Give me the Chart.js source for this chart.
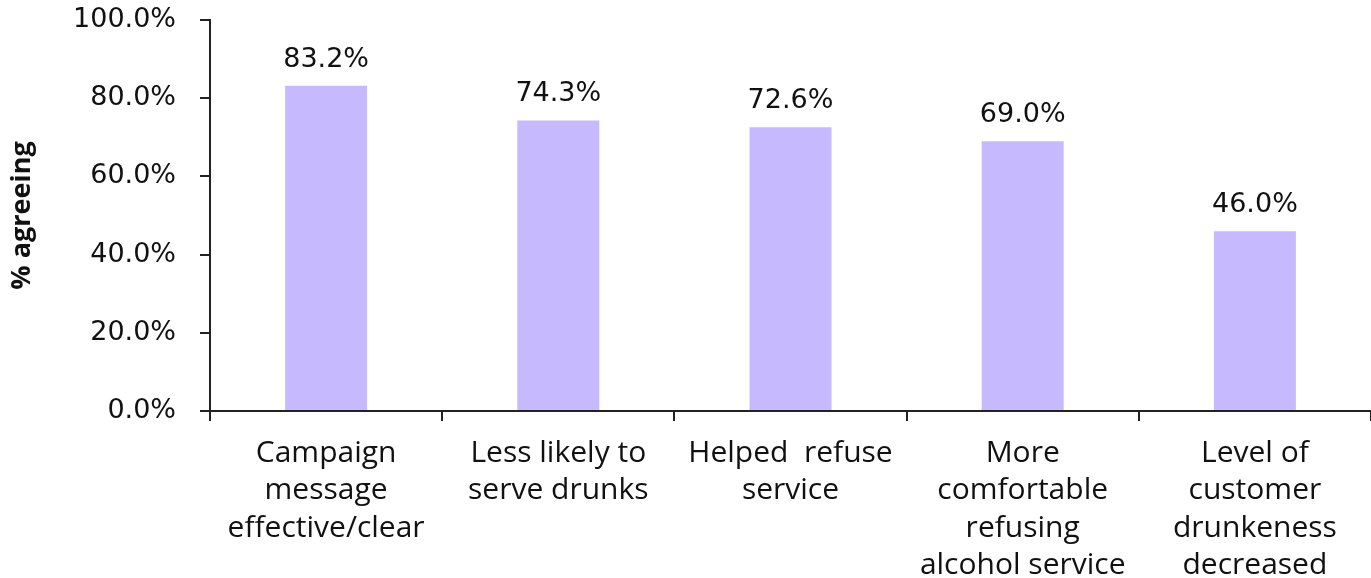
<!DOCTYPE html>
<html>
<head>
<meta charset="utf-8">
<script src="https://cdn.jsdelivr.net/npm/chart.js@4/dist/chart.umd.min.js"></script>
<style>
  html, body { margin: 0; padding: 0; background: #fff; }
  #wrap { width: 1371px; height: 578px; }
</style>
</head>
<body>
<div id="wrap"><canvas id="chart" width="1371" height="578"></canvas></div>
<script>
// data
const categories = [
    ["Campaign", "message", "effective/clear"],
    ["Less likely to", "serve drunks"],
    ["Helped  refuse", "service"],
    ["More", "comfortable", "refusing", "alcohol service"],
    ["Level of", "customer", "drunkeness", "decreased"]
];
const agreeing = [83.2, 74.3, 72.6, 69.0, 46.0];
const yTicks = [0, 20, 40, 60, 80, 100];

const barColor = "#c7b9fd";
const axisColor = "#222";

// value labels above each bar
const valueLabels = {
    id: "valueLabels",
    afterDatasetsDraw(chart) {
        const ctx = chart.ctx;
        const meta = chart.getDatasetMeta(0);
        ctx.save();
        ctx.font = "27px 'DejaVu Sans'";
        ctx.fillStyle = "#111";
        ctx.textAlign = "center";
        ctx.textBaseline = "alphabetic";
        meta.data.forEach((bar, i) => {
            ctx.fillText(agreeing[i].toFixed(1) + "%", bar.x, bar.y - 19);
        });
        ctx.restore();
    }
};

const ctx = document.getElementById("chart").getContext("2d");
new Chart(ctx, {
    type: "bar",
    data: {
        labels: categories,
        datasets: [{
            data: agreeing,
            backgroundColor: barColor,
            borderWidth: 0,
            categoryPercentage: 1,
            barPercentage: 0.353
        }]
    },
    options: {
        responsive: false,
        animation: false,
        layout: { padding: { top: 20, right: 0, left: 0, bottom: 0 } },
        plugins: {
            legend: { display: false },
            tooltip: { enabled: false }
        },
        scales: {
            x: {
                grid: {
                    offset: true,
                    drawOnChartArea: false,
                    drawTicks: true,
                    tickLength: 10,
                    color: axisColor,
                    lineWidth: 2
                },
                border: { display: true, color: axisColor, width: 2 },
                ticks: {
                    color: "#111",
                    font: { family: "Open Sans", size: 30, lineHeight: 1.24 },
                    padding: 14,
                    maxRotation: 0,
                    autoSkip: false
                },
                afterFit(scale) {
                    scale.height = 167;
                    scale.paddingLeft = 0;
                    scale.paddingRight = 0;
                }
            },
            y: {
                min: 0,
                max: 100,
                afterBuildTicks(scale) {
                    scale.ticks = yTicks.map(v => ({ value: v }));
                },
                grid: {
                    drawOnChartArea: false,
                    drawTicks: true,
                    tickLength: 10,
                    color: axisColor,
                    lineWidth: 2
                },
                border: { display: true, color: axisColor, width: 2 },
                ticks: {
                    color: "#111",
                    font: { family: "DejaVu Sans", size: 27 },
                    padding: 24,
                    callback: v => v.toFixed(1) + "%"
                },
                title: {
                    display: true,
                    text: "% agreeing",
                    color: "#111",
                    font: { family: "Open Sans", size: 27, weight: "bold" },
                    padding: { top: 6, bottom: 0 }
                },
                afterFit(scale) {
                    scale.width = 210;
                    scale.paddingTop = 0;
                    scale.paddingBottom = 0;
                }
            }
        }
    },
    plugins: [valueLabels]
});
</script>
</body>
</html>
